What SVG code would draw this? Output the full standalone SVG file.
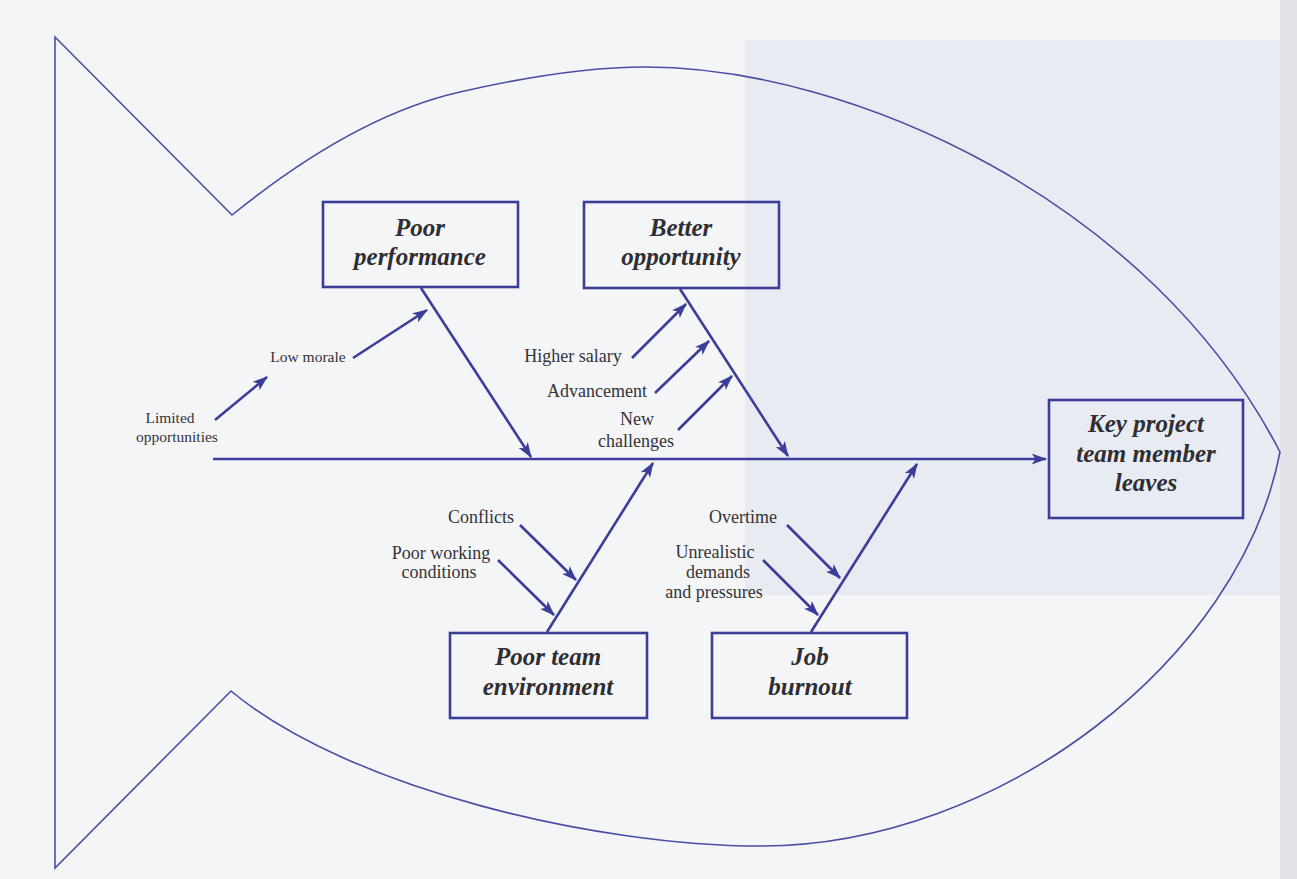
<svg xmlns="http://www.w3.org/2000/svg" width="1297" height="879" viewBox="0 0 1297 879">
<defs>
<style>
.fish{fill:none;stroke:#4a4ea3;stroke-width:1.6}
.bone{fill:none;stroke:#3a3e98;stroke-width:2.6}
.box{fill:none;stroke:#3a3e98;stroke-width:2.6}
.bt{font-family:"Liberation Serif",serif;font-weight:bold;font-style:italic;font-size:25px;fill:#2e2e33;text-anchor:middle}
.lb{font-family:"Liberation Serif",serif;font-size:18px;fill:#333338;text-anchor:middle}
.ls{font-family:"Liberation Serif",serif;font-size:15.5px;fill:#333338;text-anchor:middle}
</style>
<marker id="ah" viewBox="0 0 14 10" refX="13" refY="5" markerWidth="16" markerHeight="11" markerUnits="userSpaceOnUse" orient="auto">
<path d="M0,0 L14,5 L0,10 L3.5,5 Z" fill="#3a3e98"/>
</marker>
</defs>
<rect x="0" y="0" width="1297" height="879" fill="#f4f5f7"/>
<rect x="745" y="40" width="535" height="555" fill="#e9ebf2"/>
<rect x="1280" y="0" width="17" height="879" fill="#e2e3e8"/>

<g id="fish">
<path class="fish" d="M55,37 L232,215 C300,160 380,110 460,92 C530,76 590,67 645,67 C850,67 1150,200 1280,452 C1240,660 1000,846 760,846 C600,846 350,790 231,691 L55,868 Z"/>
</g>

<g id="connectors">
<line class="bone" x1="213" y1="459" x2="1046" y2="459" marker-end="url(#ah)"/>
<line class="bone" x1="421" y1="288" x2="531" y2="457" marker-end="url(#ah)"/>
<line class="bone" x1="680" y1="289" x2="788" y2="456" marker-end="url(#ah)"/>
<line class="bone" x1="547" y1="632" x2="653" y2="463" marker-end="url(#ah)"/>
<line class="bone" x1="811" y1="632" x2="917" y2="464" marker-end="url(#ah)"/>
<line class="bone" x1="215" y1="420" x2="267" y2="377" marker-end="url(#ah)"/>
<line class="bone" x1="353" y1="358" x2="427" y2="310" marker-end="url(#ah)"/>
<line class="bone" x1="632" y1="358" x2="686" y2="304" marker-end="url(#ah)"/>
<line class="bone" x1="655" y1="393" x2="709" y2="341" marker-end="url(#ah)"/>
<line class="bone" x1="678" y1="430" x2="732" y2="376" marker-end="url(#ah)"/>
<line class="bone" x1="520" y1="525" x2="576" y2="580" marker-end="url(#ah)"/>
<line class="bone" x1="498" y1="560" x2="554" y2="615" marker-end="url(#ah)"/>
<line class="bone" x1="787" y1="525" x2="840" y2="578" marker-end="url(#ah)"/>
<line class="bone" x1="763" y1="560" x2="818" y2="615" marker-end="url(#ah)"/>
</g>

<g id="poor-performance">
<rect class="box" x="323" y="202" width="195" height="85"/>
<text class="bt" x="420" y="236">Poor</text>
<text class="bt" x="420" y="265">performance</text>
</g>
<g id="better-opportunity">
<rect class="box" x="584" y="202" width="195" height="86"/>
<text class="bt" x="681" y="236">Better</text>
<text class="bt" x="681" y="265">opportunity</text>
</g>
<g id="key-project">
<rect class="box" x="1049" y="400" width="194" height="118"/>
<text class="bt" x="1146" y="432">Key project</text>
<text class="bt" x="1146" y="462">team member</text>
<text class="bt" x="1146" y="491">leaves</text>
</g>
<g id="poor-team-environment">
<rect class="box" x="450" y="633" width="197" height="85"/>
<text class="bt" x="548" y="665">Poor team</text>
<text class="bt" x="548" y="695">environment</text>
</g>
<g id="job-burnout">
<rect class="box" x="712" y="633" width="195" height="85"/>
<text class="bt" x="810" y="665">Job</text>
<text class="bt" x="810" y="695">burnout</text>
</g>

<g id="labels">
<text class="ls" x="170" y="423">Limited</text>
<text class="ls" x="177" y="442">opportunities</text>
<text class="ls" x="308" y="362">Low morale</text>
<text class="lb" x="573" y="362">Higher salary</text>
<text class="lb" x="597" y="397">Advancement</text>
<text class="lb" x="637" y="425">New</text>
<text class="lb" x="636" y="447">challenges</text>
<text class="lb" x="481" y="523">Conflicts</text>
<text class="lb" x="441" y="559">Poor working</text>
<text class="lb" x="439" y="578">conditions</text>
<text class="lb" x="743" y="523">Overtime</text>
<text class="lb" x="715" y="558">Unrealistic</text>
<text class="lb" x="718" y="578">demands</text>
<text class="lb" x="714" y="598">and pressures</text>
</g>
</svg>
